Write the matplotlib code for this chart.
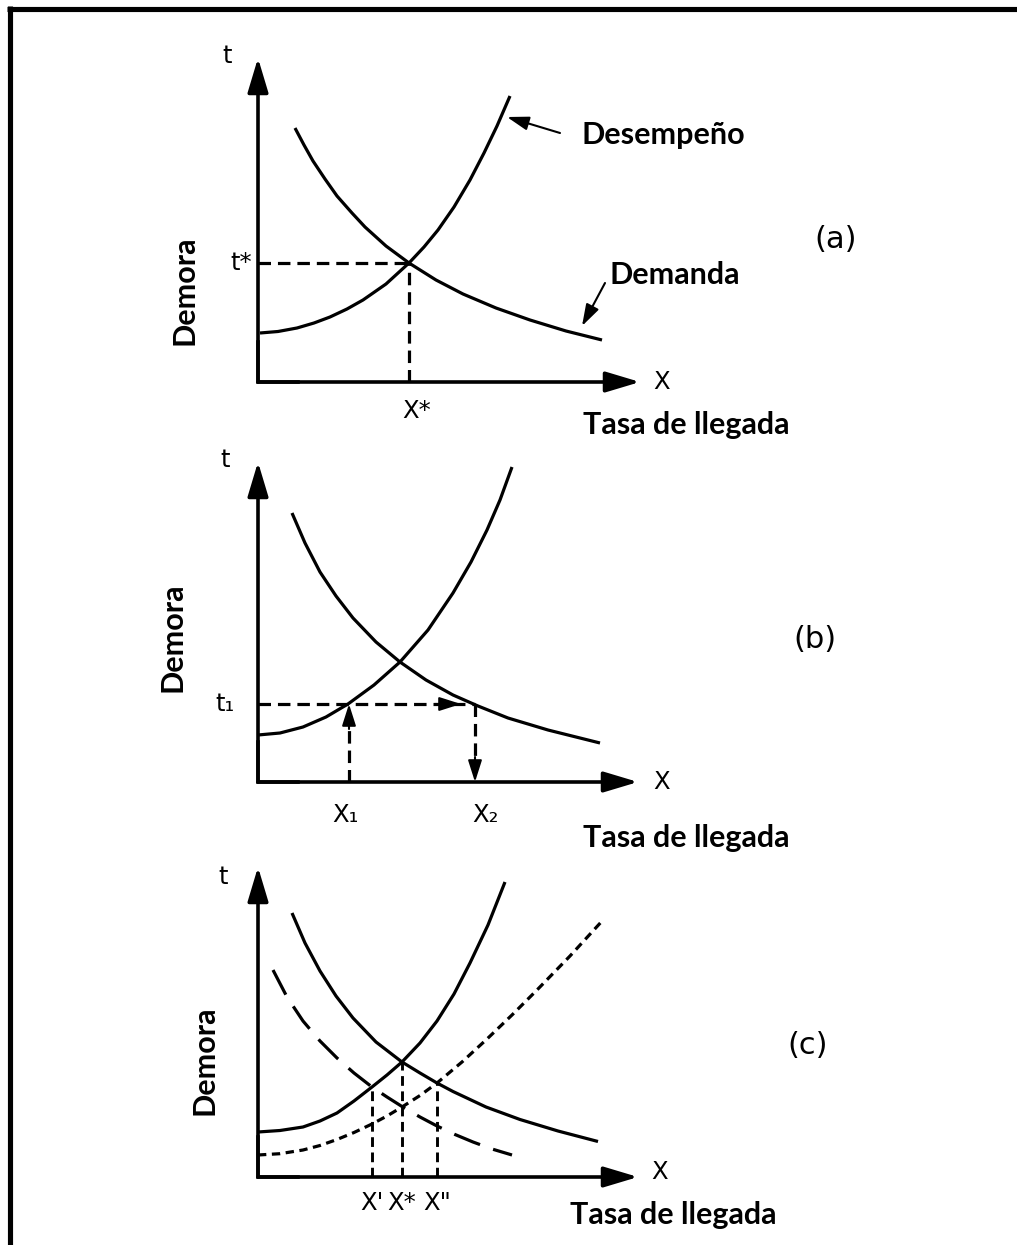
import matplotlib
matplotlib.use("Agg")
import matplotlib.pyplot as plt
from matplotlib.lines import Line2D

plt.rcParams['lines.scale_dashes'] = False

W, H = 1017, 1245

# ---- panel (a) : values are offsets from the axis origin
perf_a_x = [2, 20, 39, 56, 72, 89, 105, 128, 151, 166, 180, 196, 212, 226, 239, 252]
perf_a_y = [49, 50.5, 54, 59, 65, 73, 82, 98, 119, 135, 152, 175, 202, 229, 256, 286]
dem_a_x = [37, 46, 55, 67, 79, 94, 107, 128, 151, 178, 205, 238, 272, 308, 344]
dem_a_y = [254, 237, 221, 203, 186, 169, 155, 136, 119, 102, 88, 74, 62, 51, 42]
eq_a = (151, 119)

# ---- panel (b)
perf_b_x = [0, 22, 45, 68, 90, 116, 142, 170, 195, 213, 229, 242, 254]
perf_b_y = [47, 49, 55, 65, 78, 97, 120, 152, 189, 220, 252, 282, 315]
dem_b_x = [34, 47, 62, 78, 95, 118, 142, 168, 195, 220, 250, 290, 342]
dem_b_y = [269, 239, 210, 186, 164, 140, 120, 102, 87, 76, 64, 52, 39]
t1_b = 78
x1_b, x2_b = 91, 217

# ---- panel (c)
perf_c_x = [0, 22, 45, 62, 79, 96, 114, 129, 144, 162, 179, 196, 212, 230, 247]
perf_c_y = [45, 46.5, 50, 56, 64, 76, 90, 102, 115, 134, 156, 183, 214, 252, 295]
dem_c_x = [34, 47, 62, 78, 95, 118, 144, 162, 179, 195, 228, 262, 300, 340]
dem_c_y = [264, 234, 206, 181, 159, 135, 115, 104, 94, 85.5, 70, 57.5, 46, 35.5]
dem2_c_x = [15, 29, 45, 62, 79, 96, 114, 129, 144, 162, 179, 197, 215, 234, 254]
dem2_c_y = [207, 180, 156, 136, 119, 104, 90, 80, 70.5, 60, 51, 42.5, 35, 28, 22]
perf2_c_x = [0, 22, 45, 62, 79, 96, 114, 129, 144, 162, 179, 204, 229, 254, 279, 312, 345]
perf2_c_y = [22, 23.3, 27, 31.5, 37.5, 44.5, 53, 61, 70, 81.5, 94, 115, 138, 162, 187, 221, 257]
xs_c = [114, 144, 179]
tops_c = [90, 115, 94]
xlabels_c = ["X'", "X*", 'X"']

BOLD = ['Lato', 'DejaVu Sans']
SYM = ['DejaVu Sans']

fig = plt.figure(figsize=(W / 100, H / 100), dpi=100)
fig.patch.set_facecolor('white')

# frame (top and left only, the rest is cut off)
fig.add_artist(Line2D([7 / W, 1], [1 - 8.5 / H] * 2, color='k', lw=3.7,
                      solid_capstyle='butt', transform=fig.transFigure))
fig.add_artist(Line2D([9.5 / W] * 2, [0, 1 - 6 / H], color='k', lw=3.7,
                      solid_capstyle='butt', transform=fig.transFigure))


def panel(ox, oy):
    ax = fig.add_axes([140 / W, (H - (oy + 78)) / H, 740 / W, 430 / H])
    ax.set_xlim(140 - ox, 880 - ox)
    ax.set_ylim(-78, 352)
    ax.axis('off')
    ax.patch.set_alpha(0)
    return ax


def axes_arrows(ax, xtip, ytip):
    ax.plot([0, 0, 40], [40, 0, 0], color='k', lw=2.6, solid_joinstyle='miter')
    for tip in [(0, ytip), (xtip, 0)]:
        ax.annotate('', xy=tip, xytext=(0, 0),
                    arrowprops=dict(arrowstyle='-|>,head_length=1.5,head_width=0.45',
                                    mutation_scale=14, lw=2.6, color='k',
                                    shrinkA=0, shrinkB=0))


def small_arrow(ax, start, end):
    ax.annotate('', xy=end, xytext=start,
                arrowprops=dict(arrowstyle='-|>,head_length=1.1,head_width=0.35',
                                mutation_scale=12, lw=1.5, color='k',
                                shrinkA=0, shrinkB=0))


def sym(ax, x, y, s, **kw):
    ax.text(x, y, s, family=SYM, fontsize=17.5, ha=kw.pop('ha', 'center'),
            va='center', **kw)


def bold(ax, x, y, s, **kw):
    ax.text(x, y, s, family=BOLD, fontsize=22, fontweight='bold',
            ha=kw.pop('ha', 'left'), va='center', **kw)


def tag(ax, x, y, s):
    ax.text(x, y, s, fontsize=22, ha='center', va='center')


curve = dict(color='k', lw=2.3, solid_capstyle='butt', solid_joinstyle='round')
dash = dict(color='k', lw=2.3, dashes=(9, 5))

# ================= (a)
ax = panel(258, 382)
axes_arrows(ax, 382, 324)
ax.plot(perf_a_x, perf_a_y, **curve)
ax.plot(dem_a_x, dem_a_y, **curve)
ax.plot([0, eq_a[0]], [eq_a[1], eq_a[1]], **dash)
ax.plot([eq_a[0], eq_a[0]], [0, eq_a[1]], **dash)
small_arrow(ax, (302, 249), (249, 265))
small_arrow(ax, (347, 99), (324, 56))
sym(ax, -31, 326, 't')
sym(ax, 404, 0, 'X')
sym(ax, -6, eq_a[1], 't*', ha='right')
sym(ax, eq_a[0] + 8, -29, 'X*')
bold(ax, 325, -43, 'Tasa de llegada')
bold(ax, -73, 92, 'Demora', ha='center', rotation=90)
bold(ax, 324, 247, 'Desempeño')
bold(ax, 352, 107, 'Demanda')
tag(ax, 578, 142, '(a)')

# ================= (b)
ax = panel(258, 782)
axes_arrows(ax, 380, 320)
ax.plot(perf_b_x, perf_b_y, **curve)
ax.plot(dem_b_x, dem_b_y, **curve)
ax.plot([0, x2_b], [t1_b, t1_b], **dash)
ax.plot([x1_b, x1_b], [0, t1_b - 14], **dash)
ax.plot([x2_b, x2_b], [t1_b, 14], **dash)
small_arrow(ax, (x2_b - 40, t1_b), (x2_b - 14, t1_b))
small_arrow(ax, (x1_b, t1_b - 25), (x1_b, t1_b))
small_arrow(ax, (x2_b, 25), (x2_b, 0))
sym(ax, -33, 322, 't')
sym(ax, -33, t1_b, 't₁')
sym(ax, 404, 0, 'X')
sym(ax, x1_b - 4, -33, 'X₁')
sym(ax, x2_b + 10, -33, 'X₂')
bold(ax, 325, -56, 'Tasa de llegada')
bold(ax, -86, 145, 'Demora', ha='center', rotation=90)
tag(ax, 557, 142, '(b)')

# ================= (c)
ax = panel(258, 1177)
axes_arrows(ax, 380, 310)
ax.plot(perf_c_x, perf_c_y, **curve)
ax.plot(dem_c_x, dem_c_y, **curve)
ax.plot(dem2_c_x, dem2_c_y, color='k', lw=2.3, dashes=(20, 10))
ax.plot(perf2_c_x, perf2_c_y, color='k', lw=2.3, dashes=(6, 4))
for xv, top, lab in zip(xs_c, tops_c, xlabels_c):
    ax.plot([xv, xv], [0, top], color='k', lw=2.1, dashes=(7, 4))
    sym(ax, xv, -26, lab)
sym(ax, -35, 300, 't')
sym(ax, 402, 5, 'X')
bold(ax, 312, -38, 'Tasa de llegada')
bold(ax, -53, 117, 'Demora', ha='center', rotation=90)
tag(ax, 550, 132, '(c)')

fig.savefig('out.png', dpi=100, facecolor='white')
